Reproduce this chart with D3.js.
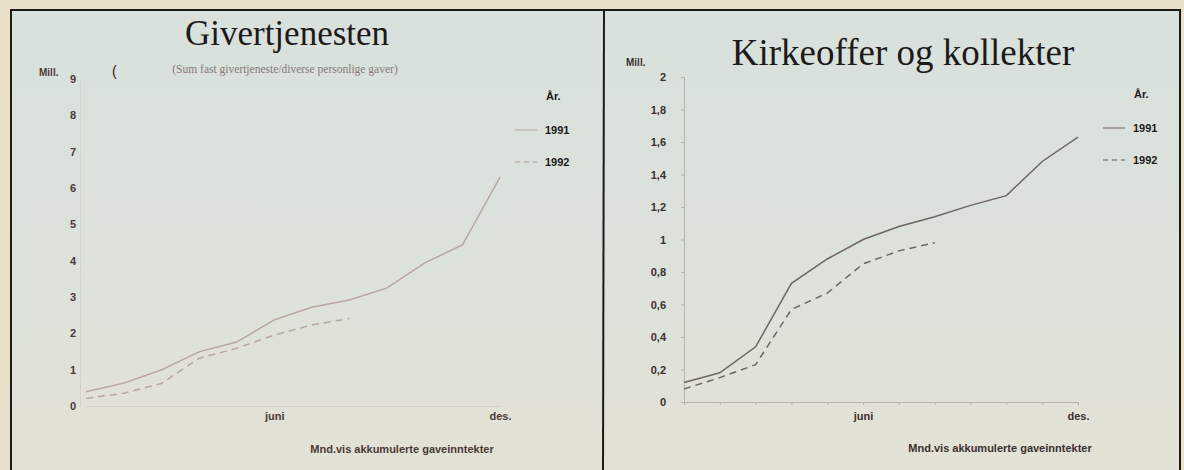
<!DOCTYPE html>
<html>
<head>
<meta charset="utf-8">
<script src="https://cdn.jsdelivr.net/npm/d3@7"></script>
<style>
  body { margin: 0; background: #e8e0c8; }
  svg { display: block; }
</style>
</head>
<body>
<div id="chart"></div>
<script>
// months along x axis, only juni and des. get a label
var months = ['jan', 'feb', 'mars', 'april', 'mai', 'juni', 'juli', 'aug', 'sep', 'okt', 'nov', 'des']
var month_labels = { juni: 'juni', des: 'des.' }

// Givertjenesten (mill. kr, akkumulert)
var giver_1991 = [0.39, 0.63, 0.99, 1.49, 1.76, 2.37, 2.72, 2.92, 3.25, 3.94, 4.43, 6.30]
var giver_1992 = [0.21, 0.35, 0.62, 1.31, 1.59, 1.95, 2.23, 2.41]
var giver_ticks = [0, 1, 2, 3, 4, 5, 6, 7, 8, 9]

// Kirkeoffer og kollekter
var kirke_1991 = [0.12, 0.18, 0.34, 0.73, 0.88, 1.00, 1.08, 1.14, 1.21, 1.27, 1.48, 1.63]
var kirke_1992 = [0.08, 0.15, 0.23, 0.57, 0.67, 0.85, 0.93, 0.98]
var kirke_ticks = [0, 0.2, 0.4, 0.6, 0.8, 1, 1.2, 1.4, 1.6, 1.8, 2]

var years = ['1991', '1992']

var chart_width = 1184
var chart_height = 470

var svg = d3.select('#chart')
    .append('svg')
    .attr('width', chart_width)
    .attr('height', chart_height)

var defs = svg.append('defs')
var grad = defs.append('linearGradient')
    .attr('id', 'paper')
    .attr('x1', 0).attr('y1', 0).attr('x2', 0).attr('y2', 1)
grad.append('stop').attr('offset', '0%').attr('stop-color', '#d8e1dc')
grad.append('stop').attr('offset', '60%').attr('stop-color', '#dde2da')
grad.append('stop').attr('offset', '100%').attr('stop-color', '#e4e1d5')

// panel backgrounds and frame
svg.append('rect')
    .attr('x', 11).attr('y', 10)
    .attr('width', 1169).attr('height', 470)
    .attr('fill', 'url(#paper)')
    .attr('stroke', '#1a1a1a')
    .attr('stroke-width', 2)

svg.append('line')
    .attr('x1', 604).attr('x2', 603)
    .attr('y1', 10).attr('y2', 470)
    .attr('stroke', '#1a1a1a')
    .attr('stroke-width', 2)

function draw_panel(p) {
    var g = svg.append('g')

    var x_scale = d3.scalePoint()
        .domain(months)
        .range([p.x0, p.x1])

    var y_scale = d3.scaleLinear()
        .domain([0, d3.max(p.ticks)])
        .range([p.y0, p.ytop])

    // x axis
    var x_axis = d3.axisBottom(x_scale)
        .tickSize(p.tick_size)
        .tickFormat(function (d) {
            return month_labels[d] || ''
        })

    var xa = g.append('g')
        .attr('transform', 'translate(0,' + p.y0 + ')')
        .call(x_axis)
    xa.select('.domain').attr('stroke', p.axis_color)
    xa.selectAll('.tick line').attr('stroke', p.axis_color)
    xa.selectAll('.tick text')
        .attr('dy', null)
        .attr('y', p.xlabel_dy)
        .attr('fill', p.text_color)
        .attr('font-family', 'Liberation Sans, Arial, sans-serif')
        .attr('font-weight', 'bold')
        .attr('font-size', 11)

    // y axis
    var y_axis = d3.axisLeft(y_scale)
        .tickValues(p.ticks)
        .tickSize(p.tick_size)
        .tickPadding(p.ypad)
        .tickFormat(function (d) {
            return String(d).replace('.', ',')
        })

    var ya = g.append('g')
        .attr('transform', 'translate(' + p.yaxis_x + ',0)')
        .call(y_axis)
    ya.select('.domain').attr('stroke', p.axis_color)
    ya.selectAll('.tick line').attr('stroke', p.axis_color)
    ya.selectAll('.tick text')
        .attr('fill', p.text_color)
        .attr('font-family', 'Liberation Sans, Arial, sans-serif')
        .attr('font-weight', 'bold')
        .attr('font-size', 11)

    var line = d3.line()
        .x(function (d, i) { return x_scale(months[i]) })
        .y(function (d) { return y_scale(d) })

    g.append('path')
        .datum(p.s1991)
        .attr('d', line)
        .attr('fill', 'none')
        .attr('stroke', p.line_color)
        .attr('stroke-width', 1.5)

    g.append('path')
        .datum(p.s1992)
        .attr('d', line)
        .attr('fill', 'none')
        .attr('stroke', p.line_color)
        .attr('stroke-width', 1.5)
        .attr('stroke-dasharray', '7,5')

    // titles
    g.append('text')
        .text(p.title)
        .attr('x', p.title_x)
        .attr('y', p.title_y)
        .attr('text-anchor', 'middle')
        .attr('font-family', 'Liberation Serif, Times New Roman, serif')
        .attr('font-size', p.title_size)
        .attr('fill', '#1c1a1a')

    g.append('text')
        .text('Mill.')
        .attr('x', p.mill_x)
        .attr('y', p.mill_y)
        .attr('font-family', 'Liberation Sans, Arial, sans-serif')
        .attr('font-weight', 'bold')
        .attr('font-size', 10)
        .attr('fill', p.text_color)

    g.append('text')
        .text('Mnd.vis akkumulerte gaveinntekter')
        .attr('x', p.xtitle_x)
        .attr('y', p.xtitle_y)
        .attr('text-anchor', 'middle')
        .attr('font-family', 'Liberation Sans, Arial, sans-serif')
        .attr('font-weight', 'bold')
        .attr('font-size', 11)
        .attr('fill', p.text_color)

    // legend
    var lg = g.append('g')
        .attr('transform', 'translate(' + p.legend_x + ',' + p.legend_y + ')')

    lg.append('text')
        .text('År.')
        .attr('x', 31)
        .attr('y', -30)
        .attr('font-family', 'Liberation Sans, Arial, sans-serif')
        .attr('font-weight', 'bold')
        .attr('font-size', 11)
        .attr('fill', '#1c1a1a')

    lg.selectAll('.item')
        .data(years)
        .enter()
        .append('g')
        .attr('transform', function (d, i) { return 'translate(0,' + i * 32 + ')' })
        .each(function (d, i) {
            var it = d3.select(this)
            it.append('line')
                .attr('x1', 0).attr('x2', 22)
                .attr('y1', 0).attr('y2', 0)
                .attr('stroke', p.legend_line)
                .attr('stroke-width', 1.3)
                .attr('stroke-dasharray', i == 1 ? '5,4' : null)
            it.append('text')
                .text(d)
                .attr('x', 30)
                .attr('y', 4)
                .attr('font-family', 'Liberation Sans, Arial, sans-serif')
                .attr('font-weight', 'bold')
                .attr('font-size', 11)
                .attr('fill', '#1c1a1a')
        })

    return g
}

var left = draw_panel({
    x0: 86, x1: 500, y0: 406, ytop: 79,
    ticks: giver_ticks, s1991: giver_1991, s1992: giver_1992,
    yaxis_x: 80, ypad: 4, tick_size: 0, xlabel_dy: 14,
    axis_color: '#d6d2ca', text_color: '#4a3a36', line_color: '#b7a6a2',
    title: 'Givertjenesten', title_size: 35, title_x: 287, title_y: 45,
    mill_x: 39, mill_y: 76,
    xtitle_x: 402, xtitle_y: 453,
    legend_x: 515, legend_y: 130, legend_line: '#bfb3ae'
})

left.append('text')
    .text('(Sum fast givertjeneste/diverse personlige gaver)')
    .attr('x', 285)
    .attr('y', 73)
    .attr('text-anchor', 'middle')
    .attr('font-family', 'Liberation Serif, Times New Roman, serif')
    .attr('font-size', 11.5)
    .attr('fill', '#857a76')

left.append('text')
    .text('(')
    .attr('x', 112)
    .attr('y', 76)
    .attr('font-family', 'Liberation Sans, Arial, sans-serif')
    .attr('font-size', 14)
    .attr('fill', '#1c1a1a')

var right = draw_panel({
    x0: 684, x1: 1078, y0: 402, ytop: 77,
    ticks: kirke_ticks, s1991: kirke_1991, s1992: kirke_1992,
    yaxis_x: 684, ypad: 15, tick_size: 3, xlabel_dy: 18,
    axis_color: '#b8b2ab', text_color: '#3a302e', line_color: '#6d6664',
    title: 'Kirkeoffer og kollekter', title_size: 37, title_x: 903, title_y: 65,
    mill_x: 626, mill_y: 66,
    xtitle_x: 1000, xtitle_y: 452,
    legend_x: 1103, legend_y: 128, legend_line: '#8a8280'
})
</script>
</body>
</html>
